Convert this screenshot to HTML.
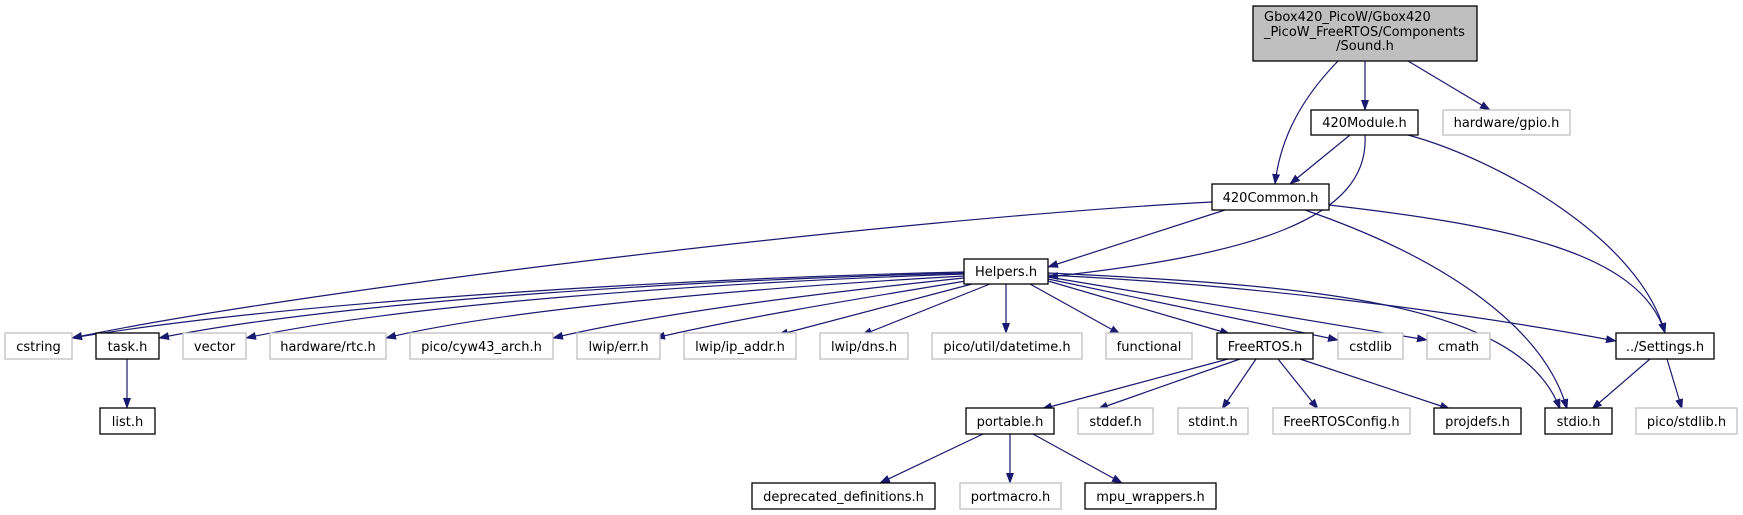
<!DOCTYPE html>
<html><head><meta charset="utf-8"><style>
html,body{margin:0;padding:0;background:#fff;}
svg{display:block;}
text{font-family:"DejaVu Sans","Liberation Sans",sans-serif;font-size:13px;fill:#000;}
.b{fill:#fff;stroke:#000;stroke-width:1.3;}
.g{fill:#fff;stroke:#bfbfbf;stroke-width:1.3;}
.e{fill:none;stroke:#191970;stroke-width:1.2;}
</style></head><body>
<svg width="1743" height="515" viewBox="0 0 1743 515" xmlns="http://www.w3.org/2000/svg">
<defs><marker id="a" markerWidth="11" markerHeight="8" refX="10" refY="4" orient="auto" markerUnits="userSpaceOnUse"><path d="M0,0L11,4L0,8z" fill="#191970"/></marker></defs>

<g class="e" marker-end="url(#a)">
<!-- Sound -->
<path d="M1338,61 C1300,100 1280,140 1275,184"/>
<path d="M1365,61 L1365,110"/>
<path d="M1408,61 L1490,110"/>
<!-- 420Module -->
<path d="M1350,135 L1290,184"/>
<path d="M1365,135 C1370,220 1250,255 1048,277"/>
<path d="M1408,135 C1500,160 1640,240 1665,333"/>
<!-- 420Common -->
<path d="M1212,202 C900,218 300,290 72,338"/>
<path d="M1225,210 L1048,267"/>
<path d="M1329,205 C1500,225 1640,250 1665,333"/>
<path d="M1305,210 C1450,260 1545,330 1567,409"/>
<!-- Helpers -->
<path d="M964,272 C700,278 300,300 72,338"/>
<path d="M964,273 C700,280 350,300 159,338"/>
<path d="M964,274 C700,283 400,305 246,338"/>
<path d="M964,276 C750,288 500,310 386,338"/>
<path d="M964,278 C800,295 650,315 553,338"/>
<path d="M966,281 C850,300 730,320 655,338"/>
<path d="M972,284 L778,335"/>
<path d="M990,284 L862,335"/>
<path d="M1006,284 L1006,333"/>
<path d="M1030,284 L1120,334"/>
<path d="M1048,281 L1230,334"/>
<path d="M1048,279 L1338,340"/>
<path d="M1048,277 L1427,340"/>
<path d="M1048,275 C1250,285 1450,310 1616,341"/>
<path d="M1048,273 C1300,285 1520,300 1560,409"/>
<!-- FreeRTOS -->
<path d="M1228,359 L1042,409"/>
<path d="M1240,359 L1098,409"/>
<path d="M1256,359 L1222,409"/>
<path d="M1278,359 L1318,409"/>
<path d="M1300,359 L1450,409"/>
<!-- task -->
<path d="M127,359 L127,408"/>
<!-- Settings -->
<path d="M1650,359 L1592,409"/>
<path d="M1667,359 L1682,409"/>
<!-- portable -->
<path d="M983,434 L880,483"/>
<path d="M1010,434 L1010,483"/>
<path d="M1033,434 L1122,483"/>
</g>

<!-- nodes -->
<rect x="1253" y="6" width="224" height="55" fill="#bfbfbf" stroke="#000" stroke-width="1.3"/>
<text x="1264" y="21">Gbox420_PicoW/Gbox420</text>
<text x="1264" y="36">_PicoW_FreeRTOS/Components</text>
<text x="1365" y="50" text-anchor="middle">/Sound.h</text>

<g text-anchor="middle">
<rect class="b" x="1311" y="110" width="107" height="25"/><text x="1364.5" y="127">420Module.h</text>
<rect class="g" x="1443" y="110" width="127" height="25"/><text x="1506.5" y="127">hardware/gpio.h</text>
<rect class="b" x="1212" y="184" width="117" height="26"/><text x="1270.5" y="202">420Common.h</text>
<rect class="b" x="964" y="259" width="84" height="25"/><text x="1006" y="276">Helpers.h</text>

<rect class="g" x="5" y="333" width="67" height="26"/><text x="38.5" y="351">cstring</text>
<rect class="b" x="96" y="333" width="63" height="26"/><text x="127.5" y="351">task.h</text>
<rect class="g" x="183" y="333" width="63" height="26"/><text x="214.5" y="351">vector</text>
<rect class="g" x="270" y="333" width="116" height="26"/><text x="328" y="351">hardware/rtc.h</text>
<rect class="g" x="410" y="333" width="143" height="26"/><text x="481.5" y="351">pico/cyw43_arch.h</text>
<rect class="g" x="577" y="333" width="83" height="26"/><text x="618.5" y="351">lwip/err.h</text>
<rect class="g" x="684" y="333" width="112" height="26"/><text x="740" y="351">lwip/ip_addr.h</text>
<rect class="g" x="820" y="333" width="88" height="26"/><text x="864" y="351">lwip/dns.h</text>
<rect class="g" x="932" y="333" width="150" height="26"/><text x="1007" y="351">pico/util/datetime.h</text>
<rect class="g" x="1106" y="333" width="86" height="26"/><text x="1149" y="351">functional</text>
<rect class="b" x="1217" y="333" width="96" height="26"/><text x="1265" y="351">FreeRTOS.h</text>
<rect class="g" x="1338" y="333" width="65" height="26"/><text x="1370.5" y="351">cstdlib</text>
<rect class="g" x="1427" y="333" width="63" height="26"/><text x="1458.5" y="351">cmath</text>
<rect class="b" x="1616" y="333" width="98" height="26"/><text x="1665" y="351">../Settings.h</text>

<rect class="b" x="100" y="408" width="55" height="26"/><text x="127.5" y="426">list.h</text>
<rect class="b" x="966" y="408" width="88" height="26"/><text x="1010" y="426">portable.h</text>
<rect class="g" x="1078" y="408" width="75" height="26"/><text x="1115.5" y="426">stddef.h</text>
<rect class="g" x="1178" y="408" width="70" height="26"/><text x="1213" y="426">stdint.h</text>
<rect class="g" x="1273" y="408" width="137" height="26"/><text x="1341.5" y="426">FreeRTOSConfig.h</text>
<rect class="b" x="1434" y="408" width="87" height="26"/><text x="1477.5" y="426">projdefs.h</text>
<rect class="b" x="1545" y="408" width="67" height="26"/><text x="1578.5" y="426">stdio.h</text>
<rect class="g" x="1636" y="408" width="101" height="26"/><text x="1686.5" y="426">pico/stdlib.h</text>

<rect class="b" x="752" y="483" width="183" height="26"/><text x="843.5" y="501">deprecated_definitions.h</text>
<rect class="g" x="960" y="483" width="101" height="26"/><text x="1010.5" y="501">portmacro.h</text>
<rect class="b" x="1085" y="483" width="131" height="26"/><text x="1150.5" y="501">mpu_wrappers.h</text>
</g>
</svg>
</body></html>
